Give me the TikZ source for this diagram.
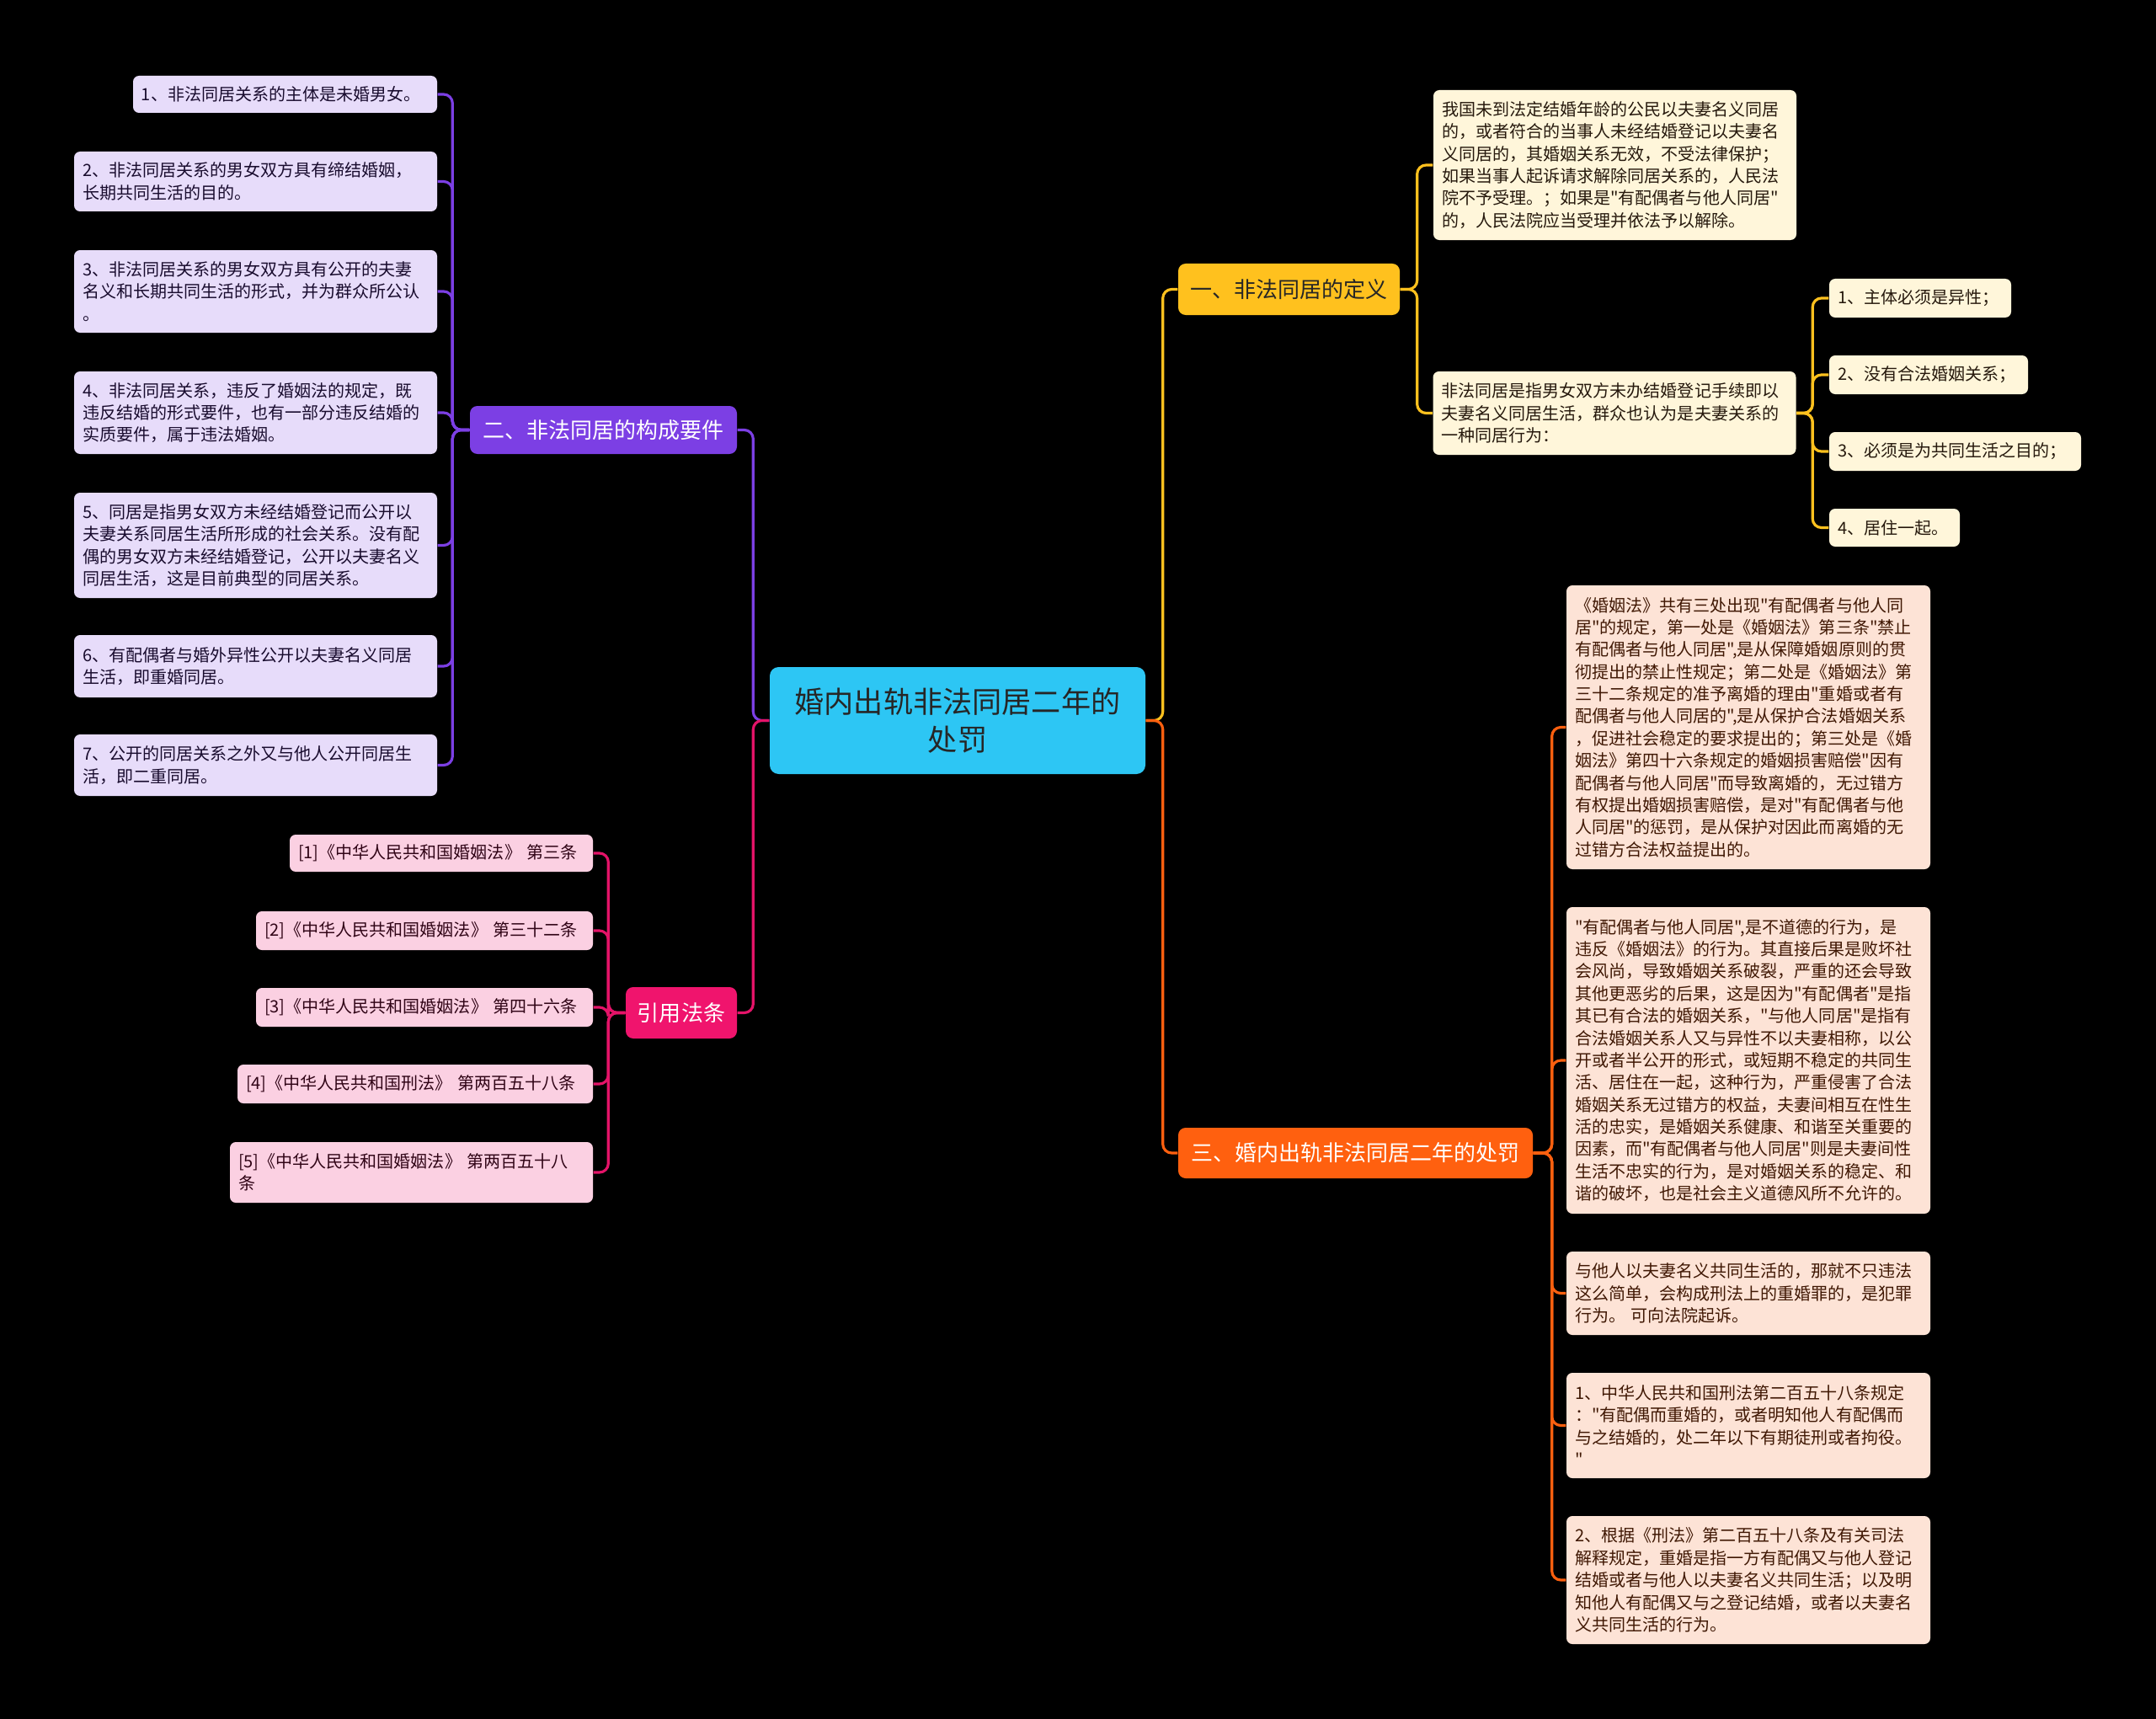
\documentclass[tikz,border=0pt]{standalone}
\usepackage{fontspec}
\setmainfont{Noto Sans CJK SC}[Ligatures=TeXOff]
\definecolor{mcyan}{HTML}{2DC6F4}
\definecolor{myel}{HTML}{FFC11E}
\definecolor{mpur}{HTML}{7C3FE4}
\definecolor{mpink}{HTML}{F0146D}
\definecolor{morg}{HTML}{FF600F}
\definecolor{wyel}{HTML}{FFF6DA}
\definecolor{wpur}{HTML}{E7DCFA}
\definecolor{wpink}{HTML}{FBD0E2}
\definecolor{worg}{HTML}{FDE3D6}

\begin{document}
\begin{tikzpicture}[
  root/.style={fill=mcyan,text=black!85,rounded corners=3pt,align=center,inner xsep=0.1cm,
               font=\fontsize{10}{13}\selectfont},
  br/.style={rounded corners=2.5pt,align=center,inner xsep=0.1cm,inner ysep=0.05cm,
             font=\fontsize{7.4}{9}\selectfont},
  lf/.style={rounded corners=2pt,align=left,inner xsep=0.1cm,inner ysep=0.05cm,
             font=\fontsize{5.7}{7.5}\selectfont},
  lfy/.style={lf,fill=wyel,text=black!80!brown},
  lfp/.style={lf,fill=wpur,text=black!80!mpur},
  lfr/.style={lf,fill=wpink,text=black!80!mpink},
  lfo/.style={lf,fill=worg,text=black!75!morg},
  ln/.style={line width=0.9pt,rounded corners=3pt},
  ly/.style={ln,draw=myel}, lp/.style={ln,draw=mpur},
  lr/.style={ln,draw=mpink!95!black}, lo/.style={ln,draw=morg}]

  \fill[black] (0,0) rectangle (25.6,-20.41);
  \useasboundingbox (0,0) rectangle (25.6,-20.41);

  \node[root,text width=4.26cm,minimum height=1.27cm] (ctr) at (11.37,-8.555) {婚内出轨非法同居二年的\\处罚};

  \node[br,fill=myel,text=black!85,text width=2.43cm,minimum height=0.61cm] (b1) at (15.305,-3.435) {一、非法同居的定义};
  \node[br,fill=mpur,text=white,text width=2.97cm,minimum height=0.57cm] (b2) at (7.165,-5.105) {二、非法同居的构成要件};
  \node[br,fill=mpink,text=white,text width=1.12cm,minimum height=0.61cm] (b3) at (8.09,-12.025) {引用法条};
  \node[br,fill=morg,text=white,text width=4.01cm,minimum height=0.60cm] (b4) at (16.095,-13.69) {三、婚内出轨非法同居二年的处罚};

  \node[lfy,text width=4.11cm,minimum height=1.78cm] (d1) at (19.175,-1.96) {我国未到法定结婚年龄的公民以夫妻名义同居\\的，或者符合的当事人未经结婚登记以夫妻名\\义同居的，其婚姻关系无效，不受法律保护；\\如果当事人起诉请求解除同居关系的，人民法\\院不予受理。；如果是"有配偶者与他人同居"\\的，人民法院应当受理并依法予以解除。};
  \node[lfy,text width=4.11cm,minimum height=0.99cm] (d2) at (19.17,-4.905) {非法同居是指男女双方未办结婚登记手续即以\\夫妻名义同居生活，群众也认为是夫妻关系的\\一种同居行为：};
  \node[lfy,text width=1.96cm,minimum height=0.46cm] (s1) at (22.80,-3.54) {1、主体必须是异性；};
  \node[lfy,text width=2.16cm,minimum height=0.46cm] (s2) at (22.90,-4.45) {2、没有合法婚姻关系；};
  \node[lfy,text width=2.79cm,minimum height=0.46cm] (s3) at (23.215,-5.36) {3、必须是为共同生活之目的；};
  \node[lfy,text width=1.35cm,minimum height=0.45cm] (s4) at (22.495,-6.265) {4、居住一起。};

  \node[lfp,text width=3.41cm,minimum height=0.44cm] (l1) at (3.385,-1.12) {1、非法同居关系的主体是未婚男女。};
  \node[lfp,text width=4.11cm,minimum height=0.71cm] (l2) at (3.035,-2.155) {2、非法同居关系的男女双方具有缔结婚姻，\\长期共同生活的目的。};
  \node[lfp,text width=4.11cm,minimum height=0.98cm] (l3) at (3.035,-3.46) {3、非法同居关系的男女双方具有公开的夫妻\\名义和长期共同生活的形式，并为群众所公认\\。};
  \node[lfp,text width=4.11cm,minimum height=0.98cm] (l4) at (3.035,-4.90) {4、非法同居关系，违反了婚姻法的规定，既\\违反结婚的形式要件，也有一部分违反结婚的\\实质要件，属于违法婚姻。};
  \node[lfp,text width=4.11cm,minimum height=1.25cm] (l5) at (3.035,-6.475) {5、同居是指男女双方未经结婚登记而公开以\\夫妻关系同居生活所形成的社会关系。没有配\\偶的男女双方未经结婚登记，公开以夫妻名义\\同居生活，这是目前典型的同居关系。};
  \node[lfp,text width=4.11cm,minimum height=0.74cm] (l6) at (3.035,-7.91) {6、有配偶者与婚外异性公开以夫妻名义同居\\生活，即重婚同居。};
  \node[lfp,text width=4.11cm,minimum height=0.73cm] (l7) at (3.035,-9.085) {7、公开的同居关系之外又与他人公开同居生\\活，即二重同居。};

  \node[lfr,text width=3.40cm,minimum height=0.44cm] (r1) at (5.24,-10.13) {[1]《中华人民共和国婚姻法》 第三条};
  \node[lfr,text width=3.80cm,minimum height=0.46cm] (r2) at (5.04,-11.05) {[2]《中华人民共和国婚姻法》 第三十二条};
  \node[lfr,text width=3.80cm,minimum height=0.46cm] (r3) at (5.04,-11.96) {[3]《中华人民共和国婚姻法》 第四十六条};
  \node[lfr,text width=4.02cm,minimum height=0.46cm] (r4) at (4.93,-12.87) {[4]《中华人民共和国刑法》 第两百五十八条};
  \node[lfr,text width=4.11cm,minimum height=0.72cm] (r5) at (4.885,-13.92) {[5]《中华人民共和国婚姻法》 第两百五十八\\条};

  \node[lfo,text width=4.12cm,minimum height=3.37cm] (p1) at (20.76,-8.635) {《婚姻法》共有三处出现"有配偶者与他人同\\居"的规定，第一处是《婚姻法》第三条"禁止\\有配偶者与他人同居",是从保障婚姻原则的贯\\彻提出的禁止性规定；第二处是《婚姻法》第\\三十二条规定的准予离婚的理由"重婚或者有\\配偶者与他人同居的",是从保护合法婚姻关系\\，促进社会稳定的要求提出的；第三处是《婚\\姻法》第四十六条规定的婚姻损害赔偿"因有\\配偶者与他人同居"而导致离婚的，无过错方\\有权提出婚姻损害赔偿，是对"有配偶者与他\\人同居"的惩罚，是从保护对因此而离婚的无\\过错方合法权益提出的。};
  \node[lfo,text width=4.12cm,minimum height=3.64cm] (p2) at (20.76,-12.59) {"有配偶者与他人同居",是不道德的行为，是\\违反《婚姻法》的行为。其直接后果是败坏社\\会风尚，导致婚姻关系破裂，严重的还会导致\\其他更恶劣的后果，这是因为"有配偶者"是指\\其已有合法的婚姻关系，"与他人同居"是指有\\合法婚姻关系人又与异性不以夫妻相称，以公\\开或者半公开的形式，或短期不稳定的共同生\\活、居住在一起，这种行为，严重侵害了合法\\婚姻关系无过错方的权益，夫妻间相互在性生\\活的忠实，是婚姻关系健康、和谐至关重要的\\因素，而"有配偶者与他人同居"则是夫妻间性\\生活不忠实的行为，是对婚姻关系的稳定、和\\谐的破坏，也是社会主义道德风所不允许的。};
  \node[lfo,text width=4.12cm,minimum height=0.99cm] (p3) at (20.76,-15.355) {与他人以夫妻名义共同生活的，那就不只违法\\这么简单，会构成刑法上的重婚罪的，是犯罪\\行为。 可向法院起诉。};
  \node[lfo,text width=4.12cm,minimum height=1.25cm] (p4) at (20.76,-16.925) {1、中华人民共和国刑法第二百五十八条规定\\："有配偶而重婚的，或者明知他人有配偶而\\与之结婚的，处二年以下有期徒刑或者拘役。\\"};
  \node[lfo,text width=4.12cm,minimum height=1.52cm] (p5) at (20.76,-18.76) {2、根据《刑法》第二百五十八条及有关司法\\解释规定，重婚是指一方有配偶又与他人登记\\结婚或者与他人以夫妻名义共同生活；以及明\\知他人有配偶又与之登记结婚，或者以夫妻名\\义共同生活的行为。};

  \draw[ly] (ctr.east) -- ++(0.2,0) |- (b1.west);
  \draw[lo] (ctr.east) -- ++(0.2,0) |- (b4.west);
  \draw[lp] (ctr.west) -- ++(-0.19,0) |- (b2.east);
  \draw[lr] (ctr.west) -- ++(-0.19,0) |- (b3.east);
  \foreach \t in {d1,d2} \draw[ly] (b1.east) -- ++(0.2,0) |- (\t.west);
  \foreach \t in {s1,s2,s3,s4} \draw[ly] (d2.east) -- ++(0.19,0) |- (\t.west);
  \foreach \t in {l1,l2,l3,l4,l5,l6,l7} \draw[lp] (b2.west) -- ++(-0.2,0) |- (\t.east);
  \foreach \t in {r1,r2,r3,r4,r5} \draw[lr] (b3.west) -- ++(-0.2,0) |- (\t.east);
  \foreach \t in {p1,p2,p3,p4,p5} \draw[lo] (b4.east) -- ++(0.22,0) |- (\t.west);
\end{tikzpicture}
\end{document}
